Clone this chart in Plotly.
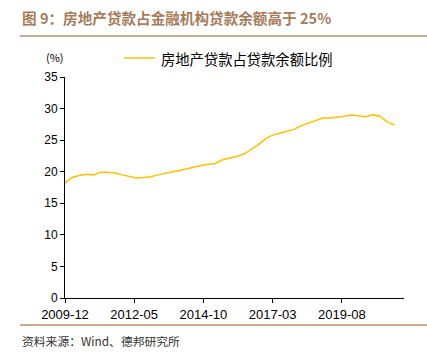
import plotly.graph_objects as go
import pandas as pd

# Quarterly data, 2009-12 to 2021-06
dates = pd.date_range("2009-12-01", "2021-06-01", freq="3MS").strftime("%Y-%m-%d").tolist()
ratio = [18.2, 19.1, 19.4, 19.6, 19.5, 19.9, 19.9, 19.8, 19.5, 19.3,
         19.0, 19.1, 19.2, 19.5, 19.8, 20.0, 20.2, 20.5, 20.8, 21.0,
         21.2, 21.3, 21.9, 22.1, 22.4, 22.8, 23.5, 24.3, 25.2, 25.8,
         26.1, 26.4, 26.7, 27.3, 27.7, 28.1, 28.5, 28.5, 28.6, 28.8,
         29.0, 28.8, 28.7, 29.0, 28.8, 27.9, 27.4]
series_name = "房地产贷款占贷款余额比例"
tick_vals = ["2009-12-01", "2012-05-01", "2014-10-01", "2017-03-01", "2019-08-01"]
tick_text = ["2009-12", "2012-05", "2014-10", "2017-03", "2019-08"]
y_ticks = [0, 5, 10, 15, 20, 25, 30, 35]

FONT = "Liberation Sans, Arial, Noto Sans CJK SC, sans-serif"
CJK = "Noto Sans CJK SC, Liberation Sans, sans-serif"
W, H = 427, 353
L, R, T, B = 65, 23, 77, 55
pw, ph = W - L - R, H - T - B

def px(x):
    return (x - L) / pw

def py(y):
    return (H - B - y) / ph

fig = go.Figure()
fig.add_trace(go.Scatter(x=dates, y=ratio, mode="lines", name=series_name,
                         line=dict(color="#FFC000", width=1.5), showlegend=False))

fig.update_layout(
    width=W, height=H,
    margin=dict(l=L, r=R, t=T, b=B),
    paper_bgcolor="white", plot_bgcolor="white",
    font=dict(family=FONT, size=12, color="#000000"),
    xaxis=dict(range=["2009-12-01", "2021-10-01"], tickvals=tick_vals, ticktext=tick_text,
               showgrid=False, zeroline=False, showline=True, linecolor="#000000", linewidth=1,
               ticks="outside", ticklen=4, tickcolor="#000000", tickfont=dict(size=13, family=FONT)),
    yaxis=dict(range=[0, 35], tickvals=y_ticks, showgrid=False, zeroline=False,
               showline=True, linecolor="#000000", linewidth=1,
               ticks="outside", ticklen=4, tickcolor="#000000", tickfont=dict(size=12, family=FONT)),
)

# Title
fig.add_annotation(x=px(20), y=py(17), xref="paper", yref="paper", xanchor="left", yanchor="middle",
                   text="<b>图 9：房地产贷款占金融机构贷款余额高于 25%</b>", showarrow=False,
                   font=dict(family=CJK, size=14.6, color="#A57C5B"))
# separator lines
fig.add_shape(type="line", xref="paper", yref="paper", x0=px(20), x1=px(427), y0=py(36), y1=py(36),
              line=dict(color="#B9906E", width=1.5))
fig.add_shape(type="line", xref="paper", yref="paper", x0=px(20), x1=px(427), y0=py(325), y1=py(325),
              line=dict(color="#B9906E", width=1.5))
# unit
fig.add_annotation(x=px(55), y=py(57), xref="paper", yref="paper", xanchor="center", yanchor="middle",
                   text="(%)", showarrow=False, font=dict(family=CJK, size=11, color="#000000"))
# legend
fig.add_shape(type="line", xref="paper", yref="paper", x0=px(124), x1=px(155), y0=py(58), y1=py(58),
              line=dict(color="#FFC000", width=1.5))
fig.add_annotation(x=px(159), y=py(58), xref="paper", yref="paper", xanchor="left", yanchor="middle",
                   text=series_name, showarrow=False, font=dict(family=CJK, size=14.3, color="#000000"))
# source
fig.add_annotation(x=px(20), y=py(340), xref="paper", yref="paper", xanchor="left", yanchor="middle",
                   text="资料来源：Wind、德邦研究所", showarrow=False,
                   font=dict(family=CJK, size=11.8, color="#333333"))

fig.write_html("out.html")
